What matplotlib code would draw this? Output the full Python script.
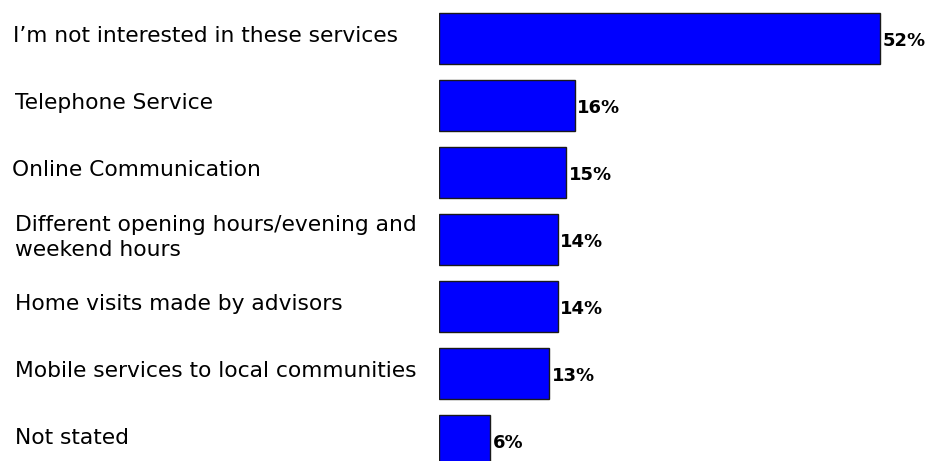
import matplotlib
matplotlib.use("Agg")
import matplotlib.pyplot as plt
from matplotlib.transforms import blended_transform_factory

categories = [
    "I\u2019m not interested in these services",
    "Telephone Service",
    "Online Communication",
    "Different opening hours/evening and\nweekend hours",
    "Home visits made by advisors",
    "Mobile services to local communities",
    "Not stated",
]
values = [52, 16, 15, 14, 14, 13, 6]
value_labels = ["52%", "16%", "15%", "14%", "14%", "13%", "6%"]

plt.rcParams['font.family'] = ['DejaVu Sans']

W, H = 929, 461
fig = plt.figure(figsize=(W / 100, H / 100), dpi=100)
left_px = 439
ax = fig.add_axes([left_px / W, 0, 1 - left_px / W, 1])
px_per_unit = 8.48
ax.set_xlim(0, (W - left_px) / px_per_unit)
pitch = 67.0
c0 = 38.5
ax.set_ylim((H - c0) / pitch, -c0 / pitch)

ypos = list(range(len(categories)))
ax.barh(ypos, values, height=0.75, color="#0000FF", edgecolor="#1a1a1a", linewidth=1.0)

for y, v, lab in zip(ypos, values, value_labels):
    ax.text(v + 0.3, y + 0.04, lab, ha="left", va="center", fontsize=13,
            fontweight="bold", color="black")

trans = blended_transform_factory(fig.transFigure, ax.transData)
xoffs = [13, 15, 12, 15, 15, 15, 15]
for y, cat, xo in zip(ypos, categories, xoffs):
    ax.text(xo / W, y - 0.03, cat, ha="left", va="center", fontsize=15.7,
            color="black", transform=trans, linespacing=1.3)

ax.axis("off")
fig.savefig("out.png", dpi=100)
